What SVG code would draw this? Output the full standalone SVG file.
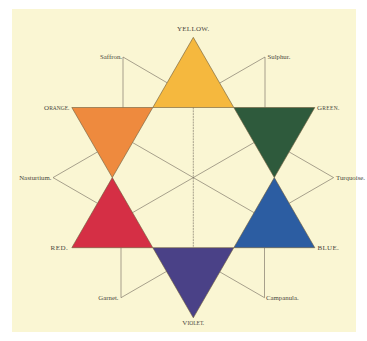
<svg xmlns="http://www.w3.org/2000/svg" width="367" height="341" viewBox="0 0 367 341">
<defs>
<style>
.tri{stroke:#6b5a3a;stroke-width:0.6;stroke-linejoin:miter}
.ln{stroke:#6e675a;stroke-width:0.6;fill:none}
.dash{stroke-dasharray:2 0.8}
.lbl{font-family:"Liberation Serif",serif;font-size:6.8px;fill:#4a4840}
.cap{font-family:"Liberation Serif",serif;font-size:7px;fill:#4a4840}
.sc{font-size:5.5px}
</style>
</defs>
<rect x="0" y="0" width="367" height="341" fill="#ffffff"/>
<rect x="12" y="9" width="344" height="323" fill="#faf6d3"/>
<g id="connectors">
<line class="ln dash" x1="193.3" y1="107.5" x2="193.3" y2="247.7"/>
<line class="ln" x1="132.55" y1="142.55" x2="254.05" y2="212.65"/>
<line class="ln" x1="254.05" y1="142.55" x2="132.55" y2="212.65"/>
<polyline class="ln" points="123,107.5 123,57 167.1,82.75"/>
<polyline class="ln" points="265,107.5 265,57 219.7,83.1"/>
<polyline class="ln" points="97.46,151.93 53,177.6 97.46,203.27"/>
<polyline class="ln" points="289.14,151.93 333.6,177.6 289.14,203.27"/>
<polyline class="ln" points="121,247.7 121,297.7 166.5,271.4"/>
<polyline class="ln" points="264.5,247.7 264.5,297.7 219.8,271.9"/>
</g>
<g id="yellow">
<polygon class="tri" points="193.3,37.35 152.8,107.5 233.8,107.5" fill="#f5b83e"/>
<text class="cap" x="193.3" y="31" text-anchor="middle" letter-spacing="0.3">YELLOW.</text>
</g>
<g id="orange">
<polygon class="tri" points="71.8,107.5 152.8,107.5 112.3,177.6" fill="#ee8a3e"/>
<text class="cap" x="69.5" y="109.8" text-anchor="end">O<tspan class="sc">RANGE.</tspan></text>
</g>
<g id="green">
<polygon class="tri" points="233.8,107.5 314.8,107.5 274.3,177.6" fill="#2e5a3c"/>
<text class="cap" x="317" y="109.8" letter-spacing="0.3">G<tspan class="sc">REEN.</tspan></text>
</g>
<g id="red">
<polygon class="tri" points="112.3,177.6 71.8,247.7 152.8,247.7" fill="#d52f45"/>
<text class="cap" x="68.3" y="250.3" text-anchor="end" font-size="7.3" letter-spacing="0.5">RED.</text>
</g>
<g id="blue">
<polygon class="tri" points="274.3,177.6 233.8,247.7 314.8,247.7" fill="#2c5da2"/>
<text class="cap" x="317.5" y="250.3" letter-spacing="0.3">BLUE.</text>
</g>
<g id="violet">
<polygon class="tri" points="152.8,247.7 233.8,247.7 193.3,317.85" fill="#4a4187"/>
<text class="cap" x="193.3" y="325" text-anchor="middle">V<tspan class="sc">IOLET.</tspan></text>
</g>
<g id="saffron"><text class="lbl" x="122" y="59" text-anchor="end">Saffron.</text></g>
<g id="sulphur"><text class="lbl" x="267.5" y="59">Sulphur.</text></g>
<g id="nasturtium"><text class="lbl" x="51.5" y="180" text-anchor="end">Nasturtium.</text></g>
<g id="turquoise"><text class="lbl" x="336" y="180">Turquoise.</text></g>
<g id="garnet"><text class="lbl" x="118.5" y="300" text-anchor="end">Garnet.</text></g>
<g id="campanula"><text class="lbl" x="266" y="300">Campanula.</text></g>
</svg>
